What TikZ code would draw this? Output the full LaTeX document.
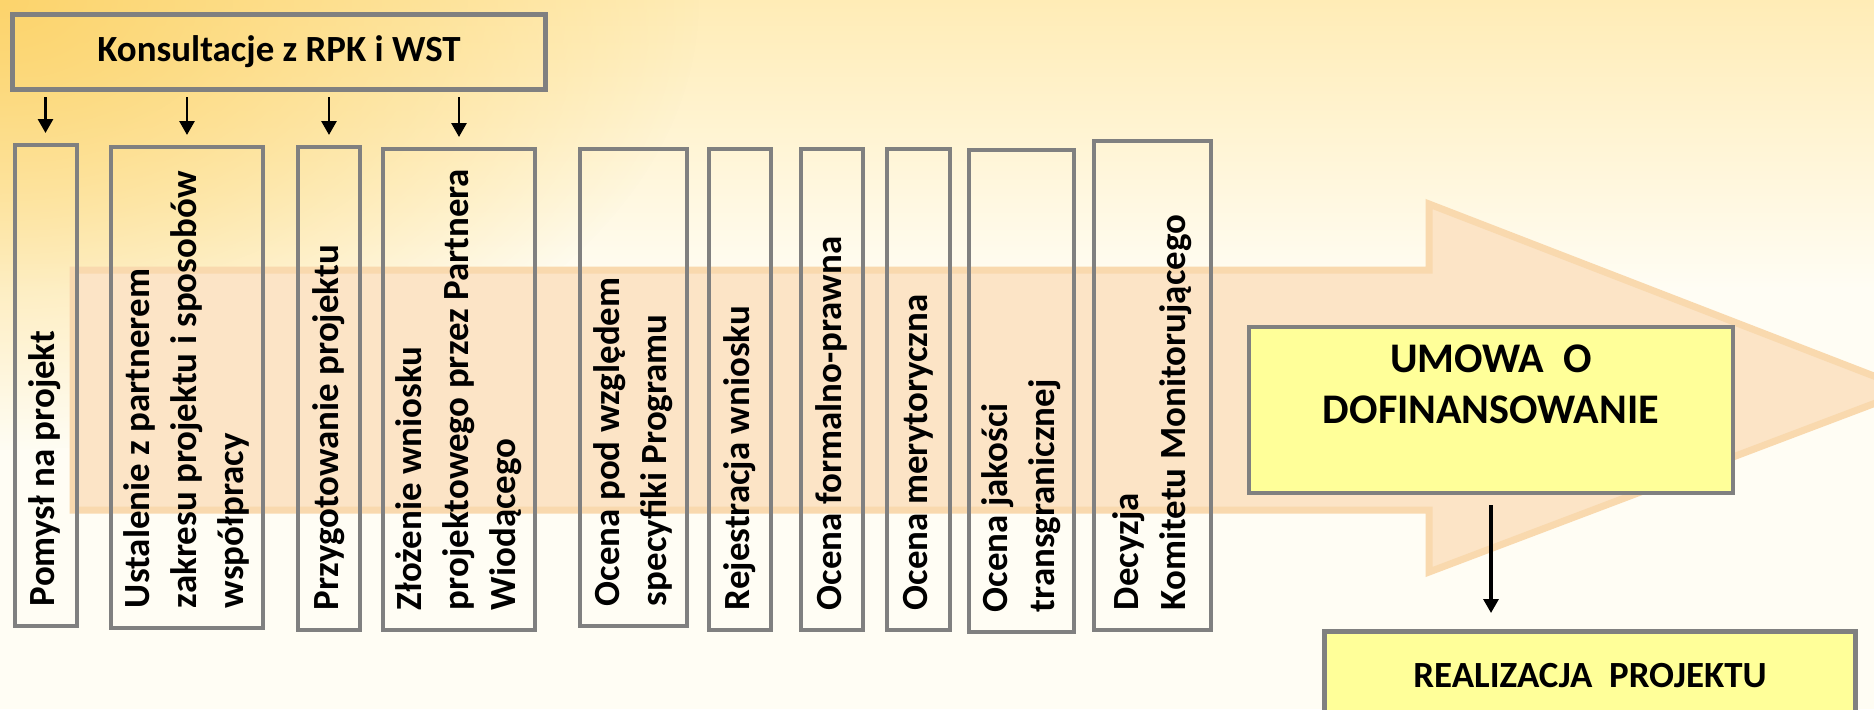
\documentclass[tikz,border=0pt]{standalone}
\usepackage{fontspec}
\setmainfont{Carlito}
\usetikzlibrary{arrows.meta,fadings}

\definecolor{ramka}{HTML}{808080}
\definecolor{tlo}{HTML}{FFFDF4}
\definecolor{tlogora}{HTML}{FFECB6}
\definecolor{zloty}{HTML}{FCD46C}
\definecolor{strzalka}{HTML}{FCE4C6}
\definecolor{strzalkabrzeg}{HTML}{F9D9AE}
\definecolor{zolty}{HTML}{FFFF99}

\tikzfading[name=rozmycie, inner color=transparent!0, outer color=transparent!100]

% wiersze tekstu w pionowych polach (bez lamania)
\newcommand{\wiersze}[1]{\begin{tabular}{@{}l@{}}#1\end{tabular}}

\begin{document}
\begin{tikzpicture}[>={Triangle[length=1.4mm,width=1.5mm]},
  font=\bfseries\fontsize{10.5}{13.3}\selectfont,
  etap/.style={draw=ramka, line width=0.4mm, rotate=90, align=flush left,
    inner xsep=2mm, inner ysep=0pt},
  pole/.style={draw=ramka, fill=zolty, line width=0.45mm, align=center},
  strz/.style={->, line width=0.8pt}]
  \useasboundingbox (0,0) rectangle (18.74,7.09);
  \clip (0,0) rectangle (18.74,7.09);
  % tlo
  \fill[tlo] (0,0) rectangle (18.74,7.09);
  \shade[top color=tlogora, bottom color=tlo] (0,4.2) rectangle (18.74,7.09);
  \fill[zloty, path fading=rozmycie] (0,7.09) ellipse (7cm and 4.5cm);
  % duza strzalka
  \filldraw[fill=strzalka, draw=strzalkabrzeg, line width=0.7mm]
    (0.73,4.39) -- (14.29,4.39) -- (14.29,5.05) -- (19.1,3.19)
    -- (14.29,1.37) -- (14.29,1.99) -- (0.73,1.99) -- cycle;
  % konsultacje
  \node[draw=ramka, line width=0.5mm, minimum width=5.32cm,
    minimum height=0.75cm] (kons) at (2.79,6.57) {Konsultacje z RPK i WST};
  % etapy
  \node[etap, minimum width=4.81cm, minimum height=0.62cm, text width=4.41cm]
    (p1) at (0.455,3.235) {\wiersze{Pomysł na projekt}};
  \node[etap, minimum width=4.81cm, minimum height=1.52cm, text width=4.41cm]
    (p2) at (1.87,3.215) {\wiersze{Ustalenie z partnerem\\zakresu projektu i sposobów\\współpracy}};
  \node[etap, minimum width=4.83cm, minimum height=0.62cm, text width=4.43cm]
    (p3) at (3.29,3.205) {\wiersze{Przygotowanie projektu}};
  \node[etap, minimum width=4.81cm, minimum height=1.52cm, text width=4.41cm]
    (p4) at (4.59,3.195) {\wiersze{Złożenie wniosku\\projektowego przez Partnera\\Wiodącego}};
  \node[etap, minimum width=4.77cm, minimum height=1.07cm, text width=4.37cm]
    (p5) at (6.335,3.215) {\wiersze{Ocena pod względem\\specyfiki Programu}};
  \node[etap, minimum width=4.81cm, minimum height=0.62cm, text width=4.41cm]
    (p6) at (7.40,3.195) {\wiersze{Rejestracja wniosku}};
  \node[etap, minimum width=4.81cm, minimum height=0.62cm, text width=4.41cm]
    (p7) at (8.32,3.195) {\wiersze{Ocena formalno-prawna}};
  \node[etap, minimum width=4.81cm, minimum height=0.63cm, text width=4.41cm]
    (p8) at (9.185,3.195) {\wiersze{Ocena merytoryczna}};
  \node[etap, minimum width=4.82cm, minimum height=1.05cm, text width=4.42cm]
    (p9) at (10.215,3.18) {\wiersze{Ocena jakości\\transgranicznej}};
  \node[etap, minimum width=4.89cm, minimum height=1.17cm, text width=4.49cm]
    (p10) at (11.525,3.235) {\wiersze{Decyzja\\Komitetu Monitorującego}};
  % umowa i realizacja
  \node[pole, minimum width=4.84cm, minimum height=1.66cm,
    font=\bfseries\fontsize{12}{14.6}\selectfont]
    (umowa) at (14.91,2.99) {UMOWA\ \ O\\DOFINANSOWANIE\\\mbox{}};
  \node[pole, line width=0.5mm, minimum width=5.31cm, minimum height=0.88cm]
    (real) at (15.90,0.335) {REALIZACJA\ \ PROJEKTU};
  % strzalki
  \foreach \p in {p1,p2,p3,p4}
    \draw[strz, shorten <=0.5mm, shorten >=1mm] (kons.south -| \p.center) -- (\p.east);
  \draw[strz, line width=0.9pt, shorten <=1mm, shorten >=1.6mm]
    (umowa.south) -- (umowa.south |- real.north);
\end{tikzpicture}
\end{document}
